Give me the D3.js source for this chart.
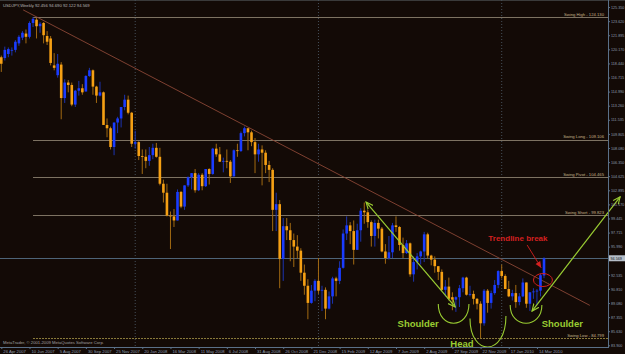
<!DOCTYPE html>
<html>
<head>
<meta charset="utf-8">
<script src="https://cdn.jsdelivr.net/npm/d3@7"></script>
<style>
  html, body { margin: 0; padding: 0; background: #130a06; }
  svg { display: block; }
</style>
</head>
<body>
<div id="plot"></div>
<script>
// weekly USDJPY bars, first bar = week of 15 Apr 2007
var open = [119.2,119.1,119.6,120.0,120.1,120.9,121.6,122.1,121.7,123.4,123.8,123.0,123.4,121.8,121.5,118.2,117.0,118.3,
  114.2,116.1,115.8,113.4,115.1,115.4,115.0,116.9,117.6,115.6,114.5,114.9,110.9,110.5,108.2,111.2,111.7,113.1,114.0,112.4,
  108.6,108.8,107.1,107.0,106.5,107.2,108.1,107.0,103.7,102.6,99.8,99.7,99.2,102.7,100.9,103.5,104.5,105.0,102.9,104.8,
  103.4,105.5,104.9,108.0,107.3,106.4,106.5,106.4,104.6,107.8,107.7,109.9,110.5,110.0,108.8,107.3,107.9,107.5,106.0,105.4,
  100.5,101.2,94.5,98.5,98.0,96.8,96.0,95.5,92.8,91.2,89.1,90.6,91.8,90.6,90.7,88.4,89.9,92.1,91.8,93.4,97.6,98.6,97.9,
  95.6,98.0,100.4,100.2,99.0,97.3,98.9,98.2,95.4,94.6,95.3,98.6,98.4,96.2,95.2,96.4,92.6,94.1,94.8,95.4,97.5,94.9,94.4,
  93.6,92.9,90.7,91.1,89.8,89.5,89.8,90.9,92.2,90.1,90.2,89.6,89.0,86.6,90.6,89.1,90.3,91.3,93.0,92.4,90.8,89.9,90.3,89.2,
  89.9,91.6,89.0,90.4,90.5,90.6,92.456];
var high = [119.4,120.5,120.4,120.4,121.3,121.9,122.4,122.6,123.6,124.13,124.0,123.5,123.5,122.4,121.8,119.7,119.6,118.6,
  116.5,116.4,116.1,115.2,116.3,115.9,117.0,117.9,117.7,115.7,116.2,115.0,111.7,110.7,111.2,111.9,113.1,114.6,114.5,112.5,
  110.2,108.9,107.9,107.9,108.2,108.6,108.7,108.1,104.2,103.7,100.3,100.6,103.0,102.8,103.5,104.6,105.0,105.5,105.0,105.0,
  105.5,105.6,108.1,108.6,108.2,106.9,107.9,106.6,107.9,108.6,110.1,110.7,110.5,110.2,109.3,108.6,108.4,107.8,106.5,105.6,
  102.6,101.7,99.5,99.5,98.9,97.6,97.4,95.8,93.8,92.0,91.3,92.0,94.6,91.2,91.0,90.5,92.3,92.3,94.2,98.1,99.7,99.0,99.2,
  98.8,100.7,101.4,100.5,99.2,99.3,99.3,98.4,96.3,97.3,98.9,99.7,98.5,97.1,96.8,96.5,94.8,95.2,95.5,97.8,97.7,95.0,94.8,
  93.6,93.2,91.9,92.2,90.4,89.9,91.3,92.3,92.3,91.2,90.6,89.7,89.3,90.8,90.8,90.6,91.9,93.1,93.8,92.6,91.8,90.7,91.3,90.3,
  92.1,91.6,90.4,90.9,90.8,92.7,94.690];
var low = [117.4,118.8,119.2,119.4,119.8,120.6,121.3,120.9,121.5,122.9,121.5,122.2,120.9,120.7,118.2,117.6,116.7,111.6,
  113.6,114.9,113.2,113.1,114.5,114.6,115.0,116.8,114.6,113.6,114.4,110.9,109.4,107.9,107.2,109.9,110.6,112.7,112.2,108.2,
  108.0,106.6,104.9,105.6,105.9,106.7,106.9,103.5,101.4,99.7,95.7,98.4,99.2,100.7,100.5,103.3,103.0,102.6,102.8,102.9,
  103.3,103.6,104.8,107.0,106.4,105.1,105.6,103.8,104.6,107.0,107.6,109.5,107.8,108.3,105.0,106.4,103.5,105.0,103.9,97.9,
  97.9,90.9,91.8,96.8,94.2,93.5,94.5,91.8,90.1,87.1,89.0,89.3,90.2,88.1,87.1,88.3,89.0,89.9,91.4,93.3,96.8,96.3,93.8,
  95.6,96.6,98.8,98.3,96.0,96.0,97.0,95.3,93.9,94.4,94.6,97.8,95.5,94.6,95.1,92.3,91.7,93.2,93.8,94.1,94.5,93.7,92.8,
  91.9,90.6,89.9,89.4,88.2,88.0,88.6,90.4,90.0,89.9,88.9,88.3,84.8,86.3,87.9,88.4,90.1,90.9,92.1,90.8,89.8,89.4,88.5,88.8,
  89.8,88.5,88.1,89.6,88.8,89.9,92.122];
var close = [118.4,120.1,120.2,120.1,121.1,121.7,122.2,121.7,123.4,123.9,123.0,123.3,121.9,121.1,118.5,117.9,118.4,114.2,
  116.1,115.8,113.4,115.1,115.4,114.9,116.9,117.6,115.6,114.5,114.9,110.9,110.5,108.2,111.2,111.7,113.1,114.0,112.4,108.6,
  108.8,107.1,107.0,106.5,107.2,108.1,107.0,103.7,102.6,99.8,99.7,99.2,102.7,100.9,103.5,104.5,105.0,102.9,104.8,103.4,
  105.5,104.9,108.0,107.3,106.4,106.5,106.4,104.6,107.8,107.7,109.9,110.5,110.0,108.8,107.3,107.9,107.5,106.0,105.4,100.5,
  101.2,94.5,98.5,98.0,96.8,96.0,95.5,92.8,91.2,89.1,90.6,91.8,90.6,90.7,88.4,89.9,92.1,91.8,93.4,97.6,98.6,97.9,95.6,
  98.0,100.4,100.2,99.0,97.3,98.9,98.2,95.4,94.6,95.3,98.6,98.4,96.2,95.2,96.4,92.6,94.1,94.8,95.4,97.5,94.9,94.4,93.6,
  92.9,90.7,91.1,89.6,89.5,89.8,90.9,92.2,90.1,90.2,89.6,89.0,86.6,90.6,89.1,90.3,91.3,93.0,92.4,90.8,89.9,90.3,89.2,89.9,
  91.6,89.0,90.4,90.5,90.6,92.5,94.569];

// bottom axis labels, one every 8 bars
var dateIdx = [0,8,16,24,32,40,48,56,64,72,80,88,96,104,112,120,128,136,144,152];
var dateLabels = ["26 Apr 2007","10 Jun 2007","5 Aug 2007","30 Sep 2007","25 Nov 2007","20 Jan 2008","16 Mar 2008",
  "11 May 2008","6 Jul 2008","31 Aug 2008","26 Oct 2008","21 Dec 2008","15 Feb 2009","12 Apr 2009","7 Jun 2009",
  "2 Aug 2009","27 Sep 2009","22 Nov 2009","17 Jan 2010","14 Mar 2010"];
// right axis labels
var priceLabels = ["83.900","85.630","87.355","89.080","90.810","92.535","94.260","95.990","97.715","99.445","101.170",
  "102.895","104.625","106.350","108.080","109.805","111.535","113.260","114.990","116.715","118.440","120.170",
  "121.895","123.620","125.350"];
// year separators (first bar of 2008, 2009, 2010)
var yearIdx = [38, 90, 142];

// swing levels
var swingNames = ["Swing High","Swing Long","Swing Pivot","Swing Short","Swing Low"];
var swingValues = [124.130, 109.106, 104.465, 99.823, 84.799];
var swingStart = 9;

var bid = 94.569;
var header = "USDJPY,Weekly  92.456 94.690 92.122 94.569";

// drawn objects in [bar, price]
var trendline = [[6.2, 125.0], [167, 88.8]];
var arrowLeft = [[103.5, 101.46], [128.8, 88.6]];
var arrowRight = [[150.6, 88.1], [175.6, 102.1]];
var curves = [
  [[124.0, 88.96], [128.5, 86.6], [132.7, 88.96]],
  [[133.0, 87.2], [138.7, 83.7], [143.2, 87.5]],
  [[144.4, 88.85], [149.2, 86.6], [153.4, 88.85]]
];
var labels = [["Shoulder", 118.3, 86.1], ["Head", 130.7, 83.65], ["Shoulder", 159.2, 86.1]];
var breakText = ["Trendline break", 146.6, 96.7];
var breakArrow = [[149.2, 96.2], [153.2, 93.4]];
var breakCircle = [153.7, 91.9];

var W = 625, H = 354, axisX = 608, axisY = 347;

var svg = d3.select("#plot").append("svg")
  .attr("width", W).attr("height", H)
  .style("font-family", "'Liberation Sans', Arial, sans-serif");

svg.append("rect").attr("width", W).attr("height", H).attr("fill", "#130a06");
svg.append("line").attr("x1", 0).attr("x2", W).attr("y1", 0.5).attr("y2", 0.5)
  .attr("stroke", "#3a3a3a");

var x = d3.scaleLinear().domain([0, 154]).range([1.3, 544]);
var y = d3.scaleLinear().domain([84.799, 124.13]).range([338, 17]);

var defs = svg.append("defs");
defs.append("clipPath").attr("id", "area")
  .append("rect").attr("x", 0).attr("y", 0).attr("width", axisX).attr("height", axisY);
defs.append("marker").attr("id", "ah")
  .attr("viewBox", "0 0 10 10").attr("refX", 9).attr("refY", 5)
  .attr("markerWidth", 8).attr("markerHeight", 8)
  .attr("markerUnits", "userSpaceOnUse")
  .attr("orient", "auto-start-reverse")
  .append("path").attr("d", "M0,1 L9,5 L0,9")
  .attr("fill", "none").attr("stroke", "#9acd32").attr("stroke-width", 1.4);
defs.append("marker").attr("id", "ahr")
  .attr("viewBox", "0 0 10 10").attr("refX", 9).attr("refY", 5)
  .attr("markerWidth", 7).attr("markerHeight", 7)
  .attr("markerUnits", "userSpaceOnUse")
  .attr("orient", "auto")
  .append("path").attr("d", "M0,1 L9,5 L0,9 Z").attr("fill", "#d42020");

var chart = svg.append("g").attr("clip-path", "url(#area)");

// year separators
chart.selectAll(".sep").data(yearIdx).enter().append("line")
  .attr("x1", d => x(d)).attr("x2", d => x(d))
  .attr("y1", 0).attr("y2", axisY)
  .attr("stroke", "#46505a").attr("stroke-dasharray", "1,2");

// swing lines
chart.selectAll(".swing").data(swingValues).enter().append("line")
  .attr("x1", x(swingStart)).attr("x2", axisX)
  .attr("y1", d => Math.round(y(d)) + 0.5).attr("y2", d => Math.round(y(d)) + 0.5)
  .attr("stroke", (d, i) => i == 4 ? "#8a7a3a" : "#7d7262")
  .attr("stroke-dasharray", (d, i) => i == 4 ? "2,1" : null);

svg.selectAll(".swingLbl").data(swingValues).enter().append("text")
  .attr("x", 604).attr("y", d => y(d) - 1.5)
  .attr("text-anchor", "end").attr("font-size", 4.2).attr("fill", "#c8b48a")
  .text((d, i) => swingNames[i] + " - " + d.toFixed(3));

// bid line
chart.append("line")
  .attr("x1", 0).attr("x2", axisX)
  .attr("y1", Math.round(y(bid)) + 0.5).attr("y2", Math.round(y(bid)) + 0.5)
  .attr("stroke", "#4e6478");

// trendline
chart.append("line")
  .attr("x1", x(trendline[0][0])).attr("y1", y(trendline[0][1]))
  .attr("x2", x(trendline[1][0])).attr("y2", y(trendline[1][1]))
  .attr("stroke", "#8a4636").attr("stroke-width", 0.9);

// candles
var bars = chart.selectAll(".bar").data(d3.range(open.length)).enter().append("g");
bars.append("line")
  .attr("x1", i => x(i)).attr("x2", i => x(i))
  .attr("y1", i => y(high[i])).attr("y2", i => y(low[i]))
  .attr("stroke", i => close[i] >= open[i] ? "#1c34b0" : "#a26a12")
  .attr("stroke-width", 1);
bars.append("rect")
  .attr("x", i => x(i) - 1.3).attr("width", 2.6)
  .attr("y", i => y(Math.max(open[i], close[i])))
  .attr("height", i => Math.max(0.8, Math.abs(y(open[i]) - y(close[i]))))
  .attr("fill", i => close[i] >= open[i] ? "#1a3cff" : "#f5a014");

// annotations
var ann = svg.append("g");
var green = "#9acd32";
ann.append("line")
  .attr("x1", x(arrowLeft[0][0])).attr("y1", y(arrowLeft[0][1]))
  .attr("x2", x(arrowLeft[1][0])).attr("y2", y(arrowLeft[1][1]))
  .attr("stroke", green).attr("stroke-width", 1.2)
  .attr("marker-start", "url(#ah)").attr("marker-end", "url(#ah)");
ann.append("line")
  .attr("x1", x(arrowRight[0][0])).attr("y1", y(arrowRight[0][1]))
  .attr("x2", x(arrowRight[1][0])).attr("y2", y(arrowRight[1][1]))
  .attr("stroke", green).attr("stroke-width", 1.2)
  .attr("marker-start", "url(#ah)").attr("marker-end", "url(#ah)");

ann.selectAll(".cup").data(curves).enter().append("path")
  .attr("d", function(c) {
    var x0 = x(c[0][0]), y0 = y(c[0][1]), yb = y(c[1][1]), x1 = x(c[2][0]), y1 = y(c[2][1]);
    var cy = (8 * yb - y0 - y1) / 6;
    return "M" + x0 + "," + y0 + " C" + x0 + "," + cy + " " + x1 + "," + cy + " " + x1 + "," + y1;
  })
  .attr("fill", "none").attr("stroke", green).attr("stroke-width", 1.1);

ann.selectAll(".lbl").data(labels).enter().append("text")
  .attr("x", d => x(d[1])).attr("y", d => y(d[2]))
  .attr("text-anchor", "middle").attr("font-size", 9.5).attr("font-weight", "bold")
  .attr("fill", green).text(d => d[0]);

ann.append("text")
  .attr("x", x(breakText[1])).attr("y", y(breakText[2]))
  .attr("text-anchor", "middle").attr("font-size", 8).attr("font-weight", "bold")
  .attr("fill", "#d42020").text(breakText[0]);
ann.append("line")
  .attr("x1", x(breakArrow[0][0])).attr("y1", y(breakArrow[0][1]))
  .attr("x2", x(breakArrow[1][0])).attr("y2", y(breakArrow[1][1]))
  .attr("stroke", "#d42020").attr("stroke-width", 0.9)
  .attr("marker-end", "url(#ahr)");
ann.append("ellipse")
  .attr("cx", x(breakCircle[0])).attr("cy", y(breakCircle[1]))
  .attr("rx", 9.5).attr("ry", 6.5)
  .attr("fill", "none").attr("stroke", "#d42020").attr("stroke-width", 1);

// right price axis (the tick hidden under the bid box is left out)
var shownTicks = priceLabels.filter(s => Math.abs(y(+s) - y(bid)) > 5);
var yAxis = svg.append("g")
  .attr("transform", `translate(${axisX}, 0)`)
  .call(d3.axisRight(y)
    .tickValues(shownTicks.map(Number))
    .tickFormat((d, i) => shownTicks[i])
    .tickSize(2).tickPadding(1));
yAxis.select(".domain").remove();
yAxis.selectAll("line").attr("stroke", "#5a7088");
yAxis.selectAll("text").attr("fill", "#8e9cb0").attr("font-size", 3.7)
  .attr("font-family", "'Liberation Sans', Arial, sans-serif");
svg.append("line").attr("x1", axisX + 0.5).attr("x2", axisX + 0.5)
  .attr("y1", 0).attr("y2", axisY).attr("stroke", "#5a7088");

// bid marker on axis
svg.append("rect").attr("x", axisX + 1).attr("y", y(bid) - 3)
  .attr("width", W - axisX - 1).attr("height", 6).attr("fill", "#b6bec8");
svg.append("text").attr("x", axisX + 2.5).attr("y", y(bid) + 1.4)
  .attr("font-size", 3.7).attr("fill", "#101010").text(bid.toFixed(3));

// bottom time axis
var xAxis = svg.append("g")
  .attr("transform", `translate(0, ${axisY})`)
  .call(d3.axisBottom(x)
    .tickValues(dateIdx)
    .tickFormat((d, i) => dateLabels[i])
    .tickSize(2).tickPadding(1));
xAxis.select(".domain").remove();
xAxis.selectAll("line").attr("stroke", "#5a7088");
xAxis.selectAll("text").attr("fill", "#8e9cb0").attr("font-size", 4.2)
  .attr("text-anchor", "start").attr("dx", 1.5)
  .attr("font-family", "'Liberation Sans', Arial, sans-serif");
svg.append("line").attr("x1", 0).attr("x2", axisX + 1)
  .attr("y1", axisY + 0.5).attr("y2", axisY + 0.5).attr("stroke", "#5a7088");

// texts
svg.append("text").attr("x", 3).attr("y", 6.5)
  .attr("font-size", 4.2).attr("fill", "#b8b8b8").text(header);
svg.append("text").attr("x", 3).attr("y", 344)
  .attr("font-size", 4.2).attr("fill", "#a0a0a0")
  .text("MetaTrader, \u00a9 2001-2009 MetaQuotes Software Corp.");
</script>
</body>
</html>
